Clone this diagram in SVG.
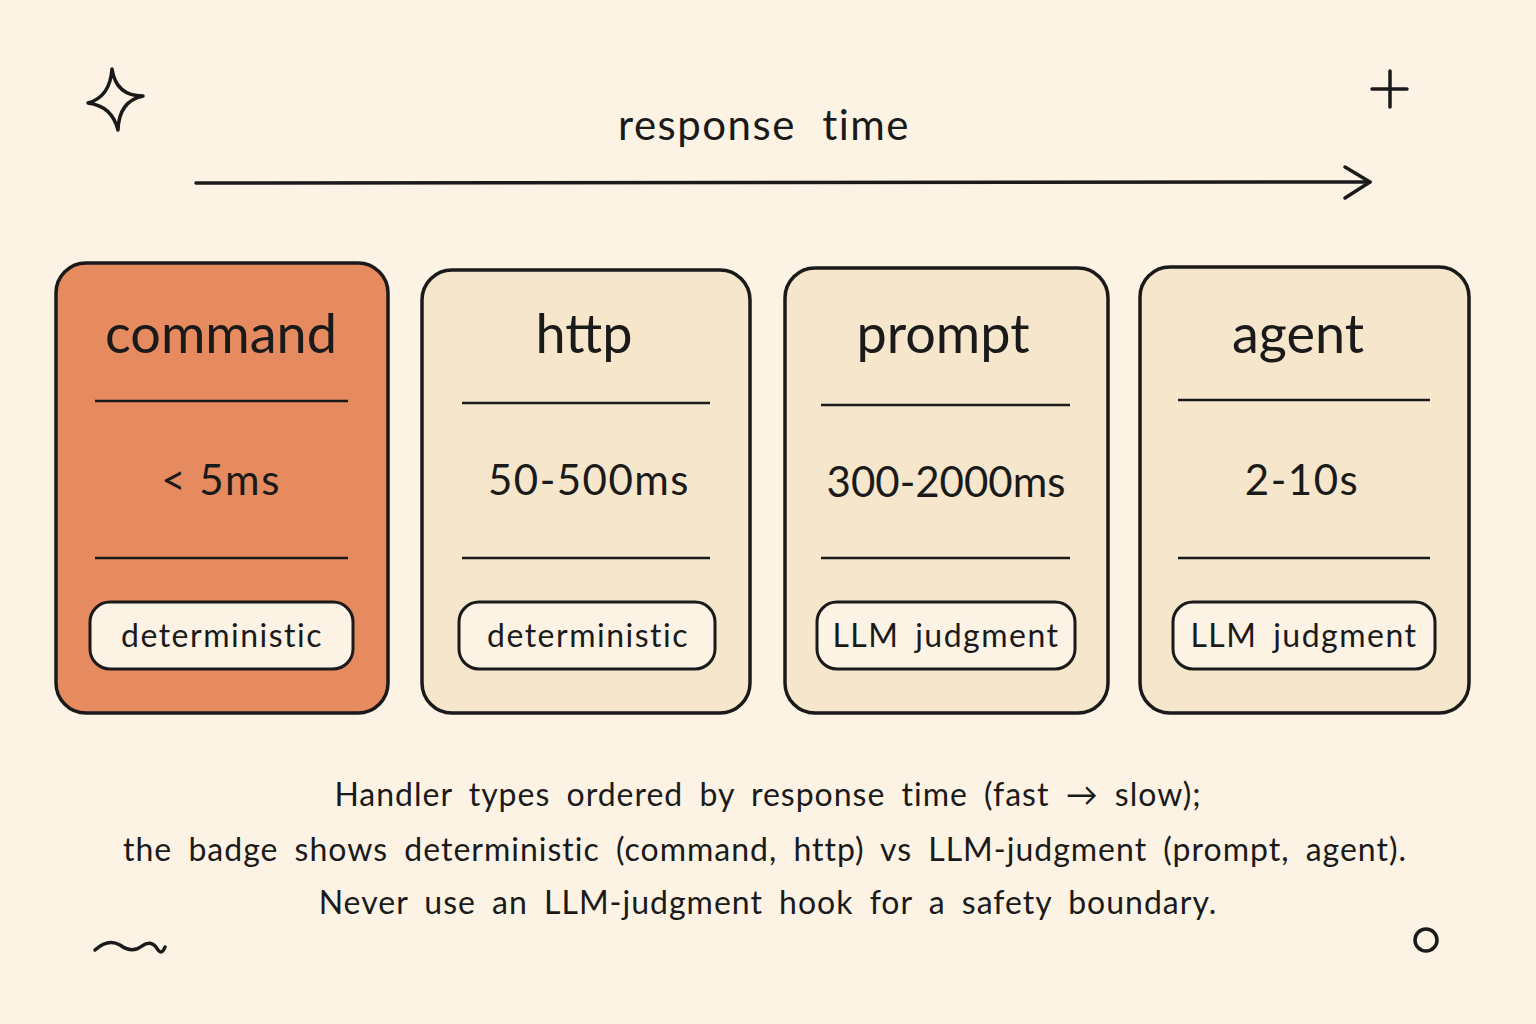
<svg xmlns="http://www.w3.org/2000/svg" width="1536" height="1024" viewBox="0 0 1536 1024">
<defs>
<style>
.card{stroke:#1a1a1a;stroke-width:3.5;}
.beige{fill:#F5E6CC;}
.orange{fill:#E68A5F;}
.div{stroke:#1a1a1a;stroke-width:2.5;fill:none;}
.badge{fill:#FCF3E4;stroke:#1a1a1a;stroke-width:3;}
.ink{stroke:#1a1a1a;stroke-width:3.5;fill:none;stroke-linecap:round;stroke-linejoin:round;}
text{font-family:Lato,"Open Sans","Noto Sans",sans-serif;fill:#1a1a1a;text-anchor:middle;}
.title{font-size:54px;}
.time{font-size:42px;letter-spacing:1.5px;}
.btxt{font-size:32px;letter-spacing:1.5px;word-spacing:6px;}
.cap{font-size:32px;letter-spacing:1px;word-spacing:7px;}
</style>
</defs>
<rect width="1536" height="1024" fill="#FCF3E4"/>
<g id="decor">
<path class="ink" d="M112,69 Q116,96 143,96 Q119,101 118,130 Q112,106 88,103 Q110,97 112,69 Z"/>
<path class="ink" d="M1390,71 L1390,107 M1372,89 L1407,89"/>
<path class="ink" d="M95,950 Q108,938 120,945 Q132,954 142,946 Q152,939 158,950 Q162,955 165,947"/>
<circle cx="1426" cy="940" r="11" class="ink" stroke-width="3"/>
</g>
<g id="axis">
<text x="764" y="140" style="font-size:42px;letter-spacing:1.5px;word-spacing:14px">response time</text>
<g id="connectors">
<path class="ink" d="M196,183 Q780,180 1370,182"/>
<path class="ink" d="M1345,167 L1370,182 L1345,198"/>
</g>
</g>
<g id="card-command">
<rect class="card orange" x="56" y="263" width="332" height="450" rx="30"/>
<text class="title" x="221" y="353">command</text>
<line class="div" x1="95" y1="401" x2="348" y2="401"/>
<text class="time" x="221" y="495">&lt; 5ms</text>
<line class="div" x1="95" y1="558" x2="348" y2="558"/>
<rect class="badge" x="90" y="602" width="263" height="67" rx="20"/>
<text class="btxt" x="222" y="647">deterministic</text>
</g>
<g id="card-http">
<rect class="card beige" x="422" y="270" width="328" height="443" rx="30"/>
<text class="title" x="584" y="353">http</text>
<line class="div" x1="462" y1="403" x2="710" y2="403"/>
<text class="time" x="589" y="495">50-500ms</text>
<line class="div" x1="462" y1="558" x2="710" y2="558"/>
<rect class="badge" x="459" y="602" width="256" height="67" rx="20"/>
<text class="btxt" x="588" y="647">deterministic</text>
</g>
<g id="card-prompt">
<rect class="card beige" x="785" y="268" width="323" height="445" rx="30"/>
<text class="title" x="943" y="353">prompt</text>
<line class="div" x1="821" y1="405" x2="1070" y2="405"/>
<text class="time" x="946" y="497" style="letter-spacing:0">300-2000ms</text>
<line class="div" x1="821" y1="558" x2="1070" y2="558"/>
<rect class="badge" x="817" y="602" width="258" height="67" rx="20"/>
<text class="btxt" x="946" y="647">LLM judgment</text>
</g>
<g id="card-agent">
<rect class="card beige" x="1140" y="267" width="329" height="446" rx="30"/>
<text class="title" x="1298" y="353">agent</text>
<line class="div" x1="1178" y1="400" x2="1430" y2="400"/>
<text class="time" x="1302" y="495">2-10s</text>
<line class="div" x1="1178" y1="558" x2="1430" y2="558"/>
<rect class="badge" x="1173" y="602" width="262" height="67" rx="20"/>
<text class="btxt" x="1304" y="647">LLM judgment</text>
</g>
<g id="caption">
<text class="cap" x="768" y="806">Handler types ordered by response time (fast → slow);</text>
<text class="cap" x="765" y="861">the badge shows deterministic (command, http) vs LLM-judgment (prompt, agent).</text>
<text class="cap" x="768" y="914">Never use an LLM-judgment hook for a safety boundary.</text>
</g>
</svg>
